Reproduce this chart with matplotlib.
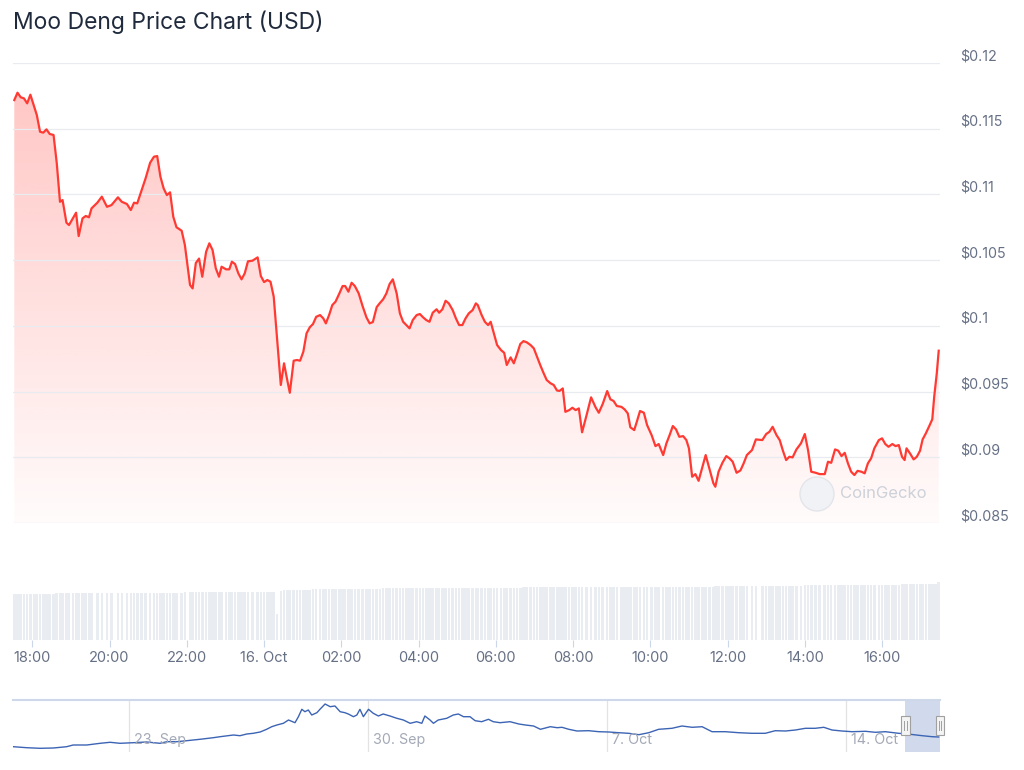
import numpy as np
import matplotlib.pyplot as plt
from matplotlib.patches import Polygon, Rectangle, Ellipse
from matplotlib.transforms import blended_transform_factory

plt.rcParams['font.family'] = ['Inter', 'DejaVu Sans']

# main chart: minutes after 15 Oct 17:30, price in USD
minutes = [2, 7, 12, 17, 22, 27, 33, 37, 42, 47, 52, 57, 63, 68, 73, 77, 83, 87, 93, 98,
           102, 108, 113, 118, 122, 131, 138, 146, 153, 163, 169, 177, 183, 188, 193, 200, 206, 213, 219, 224,
           229, 234, 239, 244, 249, 254, 262, 267, 275, 279, 284, 289, 294, 300, 305, 310, 315, 320, 324, 331,
           336, 340, 345, 350, 355, 360, 365, 372, 380, 385, 390, 395, 400, 405, 410, 416, 421, 426, 430, 436,
           441, 446, 451, 456, 461, 466, 471, 477, 482, 486, 491, 496, 501, 507, 512, 516, 521, 526, 531, 537,
           543, 549, 554, 559, 565, 570, 575, 580, 585, 590, 596, 601, 606, 611, 616, 621, 627, 632, 637, 642,
           647, 652, 658, 662, 667, 672, 677, 683, 688, 693, 698, 703, 708, 714, 719, 722, 728, 733, 738, 742,
           747, 752, 758, 763, 767, 773, 778, 783, 788, 793, 798, 804, 809, 814, 819, 824, 829, 835, 840, 845,
           849, 854, 858, 864, 869, 874, 879, 884, 891, 898, 905, 910, 916, 923, 928, 933, 938, 945, 950, 955,
           959, 965, 969, 974, 980, 985, 992, 998, 1003, 1010, 1015, 1020, 1025, 1030, 1035, 1041, 1046, 1050, 1055, 1060,
           1065, 1071, 1076, 1082, 1088, 1091, 1096, 1102, 1108, 1113, 1118, 1124, 1130, 1135, 1140, 1148, 1154, 1164, 1170, 1175,
           1180, 1186, 1191, 1196, 1201, 1206, 1211, 1217, 1224, 1230, 1235, 1240, 1247, 1253, 1261, 1266, 1271, 1277, 1282, 1287,
           1292, 1297, 1302, 1307, 1312, 1318, 1323, 1328, 1333, 1338, 1345, 1350, 1355, 1360, 1366, 1371, 1376, 1381, 1385, 1388,
           1394, 1399, 1404, 1409, 1413, 1418, 1424, 1428, 1431, 1435, 1438]

prices = [0.11718, 0.11774, 0.11739, 0.11731, 0.11693, 0.11759, 0.11667, 0.11604, 0.11477, 0.11470,
          0.11495, 0.11460, 0.11452, 0.11237, 0.10944, 0.10957, 0.10785, 0.10767, 0.10818, 0.10861,
          0.10683, 0.10818, 0.10836, 0.10826, 0.10894, 0.10937, 0.10983, 0.10906, 0.10919, 0.10978,
          0.10944, 0.10927, 0.10881, 0.10937, 0.10932, 0.11034, 0.11123, 0.11241, 0.11287, 0.11292,
          0.11135, 0.11046, 0.10995, 0.11016, 0.10830, 0.10750, 0.10724, 0.10615, 0.10311, 0.10285,
          0.10478, 0.10512, 0.10374, 0.10564, 0.10628, 0.10577, 0.10438, 0.10374, 0.10450, 0.10430,
          0.10430, 0.10488, 0.10470, 0.10400, 0.10354, 0.10400, 0.10491, 0.10496, 0.10521, 0.10379,
          0.10333, 0.10349, 0.10336, 0.10222, 0.09917, 0.09550, 0.09715, 0.09588, 0.09491, 0.09735,
          0.09740, 0.09735, 0.09803, 0.09943, 0.09989, 0.10014, 0.10069, 0.10082, 0.10057, 0.10019,
          0.10082, 0.10158, 0.10184, 0.10247, 0.10303, 0.10303, 0.10260, 0.10328, 0.10303, 0.10247,
          0.10151, 0.10065, 0.10019, 0.10029, 0.10143, 0.10174, 0.10202, 0.10247, 0.10318, 0.10354,
          0.10247, 0.10095, 0.10031, 0.10006, 0.09981, 0.10044, 0.10082, 0.10090, 0.10065, 0.10044,
          0.10031, 0.10100, 0.10126, 0.10100, 0.10126, 0.10191, 0.10171, 0.10120, 0.10057, 0.10006,
          0.10006, 0.10057, 0.10095, 0.10120, 0.10171, 0.10158, 0.10082, 0.10031, 0.10006, 0.10031,
          0.09943, 0.09854, 0.09816, 0.09795, 0.09702, 0.09760, 0.09715, 0.09786, 0.09862, 0.09884,
          0.09875, 0.09854, 0.09829, 0.09765, 0.09702, 0.09643, 0.09588, 0.09563, 0.09550, 0.09508,
          0.09505, 0.09524, 0.09346, 0.09359, 0.09377, 0.09359, 0.09372, 0.09190, 0.09321, 0.09456,
          0.09380, 0.09339, 0.09405, 0.09504, 0.09441, 0.09428, 0.09390, 0.09384, 0.09365, 0.09334,
          0.09228, 0.09207, 0.09270, 0.09352, 0.09339, 0.09245, 0.09169, 0.09085, 0.09101, 0.09017,
          0.09106, 0.09169, 0.09238, 0.09212, 0.09156, 0.09161, 0.09131, 0.09068, 0.08852, 0.08872,
          0.08821, 0.08928, 0.09017, 0.08908, 0.08802, 0.08776, 0.08890, 0.08958, 0.09009, 0.08992,
          0.08966, 0.08882, 0.08900, 0.08954, 0.09017, 0.09055, 0.09136, 0.09131, 0.09177, 0.09194,
          0.09232, 0.09169, 0.09131, 0.09050, 0.08979, 0.09004, 0.08999, 0.09060, 0.09106, 0.09177,
          0.09055, 0.08890, 0.08882, 0.08872, 0.08872, 0.08966, 0.08958, 0.09060, 0.09050, 0.09009,
          0.09034, 0.08954, 0.08890, 0.08865, 0.08897, 0.08890, 0.08878, 0.08954, 0.08992, 0.09068,
          0.09131, 0.09144, 0.09101, 0.09080, 0.09101, 0.09085, 0.09093, 0.09004, 0.08979, 0.09068,
          0.09025, 0.08984, 0.09004, 0.09050, 0.09136, 0.09182, 0.09245, 0.09289, 0.09461, 0.09639,
          0.09811]

# 24h volume behind each price point, USD millions
volume_m = [92, 92, 92, 92, 92, 92, 92, 92, 92, 92, 92, 92, 92, 94, 94, 94, 94, 94, 94, 94,
            94, 94, 94, 94, 94, 94, 94, 94, 94, 94, 94, 94, 94, 94, 94, 94, 94, 94, 94, 94,
            94, 94, 94, 94, 94, 94, 94, 96, 96, 96, 96, 96, 96, 96, 96, 96, 96, 96, 96, 96,
            96, 96, 96, 96, 96, 96, 96, 96, 96, 96, 96, 96, 96, 96, 52, 98, 100, 100, 100, 100,
            100, 100, 100, 100, 100, 102, 102, 102, 102, 102, 102, 102, 102, 102, 102, 102, 102, 102, 102, 102,
            102, 102, 102, 102, 102, 102, 104, 104, 104, 104, 104, 104, 104, 104, 104, 104, 104, 104, 104, 104,
            104, 104, 104, 104, 104, 104, 104, 104, 104, 104, 104, 104, 104, 104, 104, 104, 104, 104, 104, 104,
            104, 104, 104, 104, 104, 104, 104, 104, 104, 106, 106, 106, 106, 106, 106, 106, 106, 106, 106, 106,
            106, 106, 106, 106, 106, 106, 106, 106, 106, 106, 106, 106, 106, 106, 106, 106, 106, 106, 106, 106,
            106, 106, 106, 106, 106, 106, 106, 106, 106, 106, 106, 106, 106, 106, 106, 106, 106, 106, 106, 106,
            106, 106, 106, 106, 106, 108, 108, 108, 108, 108, 108, 108, 108, 108, 108, 108, 108, 108, 108, 108,
            108, 108, 108, 108, 108, 108, 108, 108, 108, 110, 110, 110, 110, 110, 110, 110, 110, 110, 110, 110,
            110, 110, 110, 110, 110, 110, 110, 110, 110, 110, 110, 110, 110, 110, 110, 110, 110, 112, 112, 112,
            112, 112, 112, 112, 112, 112, 112, 112, 112, 112, 116]

x_ticks = [30, 150, 270, 390, 510, 630, 750, 870, 990, 1110, 1230, 1350]
x_labels = ['18:00', '20:00', '22:00', '16. Oct', '02:00', '04:00', '06:00',
            '08:00', '10:00', '12:00', '14:00', '16:00']
y_ticks = [0.085, 0.09, 0.095, 0.1, 0.105, 0.11, 0.115, 0.12]
y_labels = ['$0.085', '$0.09', '$0.095', '$0.1', '$0.105', '$0.11', '$0.115', '$0.12']

# navigator: days after 23 Sep 00:00
nav_days = [-3.37, -2.98, -2.59, -2.20, -1.81, -1.62, -1.22, -0.83, -0.54, -0.25, 0.14, 0.53,
            0.92, 1.12, 1.41, 1.70, 2.09, 2.48, 2.68, 3.07, 3.26, 3.46, 3.65, 3.85, 4.04, 4.19,
            4.34, 4.53, 4.68, 4.87, 4.97, 5.07, 5.16, 5.26, 5.36, 5.51, 5.60, 5.75, 5.90, 6.04,
            6.19, 6.33, 6.43, 6.58, 6.68, 6.77, 6.87, 7.02, 7.16, 7.31, 7.45, 7.65, 7.85, 8.04,
            8.24, 8.43, 8.58, 8.67, 8.82, 8.92, 9.06, 9.31, 9.50, 9.65, 9.80, 9.99, 10.14, 10.33,
            10.53, 10.67, 10.87, 11.16, 11.42, 11.61, 11.85, 12.05, 12.34, 12.54, 12.68, 12.88,
            13.12, 13.46, 13.76, 14.05, 14.34, 14.63, 14.93, 15.22, 15.51, 15.90, 16.19, 16.49,
            16.78, 17.07, 17.46, 17.85, 18.24, 18.63, 18.92, 19.22, 19.51, 19.80, 20.09, 20.34,
            20.58, 20.87, 21.17, 21.56, 21.85, 22.14, 22.53, 22.87, 23.22, 23.51, 23.70]
nav_prices = [0.0545, 0.0495, 0.0465, 0.048, 0.0545, 0.063, 0.063, 0.0715, 0.0765, 0.0715, 0.0745, 0.078,
              0.0715, 0.0795, 0.0795, 0.0845, 0.0915, 0.0995, 0.1045, 0.113, 0.1095, 0.118, 0.1215, 0.128,
              0.1415, 0.1545, 0.163, 0.1715, 0.188, 0.1745, 0.2045, 0.2415, 0.2295, 0.238, 0.213, 0.2245,
              0.2415, 0.268, 0.2545, 0.258, 0.2295, 0.2245, 0.218, 0.2045, 0.213, 0.2415, 0.2045, 0.2415,
              0.2215, 0.208, 0.218, 0.208, 0.1965, 0.188, 0.1715, 0.1795, 0.1715, 0.208, 0.188, 0.1715,
              0.188, 0.1965, 0.213, 0.218, 0.2045, 0.2045, 0.1845, 0.1795, 0.1915, 0.1795, 0.1745, 0.1795,
              0.168, 0.163, 0.158, 0.1415, 0.1545, 0.1495, 0.1515, 0.1415, 0.133, 0.1345, 0.1295, 0.128,
              0.1245, 0.1215, 0.1145, 0.1245, 0.1415, 0.1465, 0.158, 0.1515, 0.1545, 0.1295, 0.1295, 0.1245,
              0.1215, 0.1215, 0.1345, 0.133, 0.138, 0.1465, 0.1465, 0.1515, 0.138, 0.133, 0.1295, 0.1315,
              0.1265, 0.1295, 0.1215, 0.1165, 0.1095, 0.1045, 0.103]
nav_ticks = [0, 7, 14, 21]
nav_labels = ['23. Sep', '30. Sep', '7. Oct', '14. Oct']
nav_window = (22.73, 23.74)

W, H = 1024, 770
RED = '#ff3a33'
LABEL = '#667085'


def box(l, t, r, b):
    return [l / W, 1 - b / H, (r - l) / W, (b - t) / H]


fig = plt.figure(figsize=(W / 100, H / 100), dpi=100)
fig.patch.set_facecolor('white')

fig.text(13 / W, 1 - 22 / H, 'Moo Deng Price Chart (USD)', fontsize=16.5,
         color='#1f2a3d', va='center', ha='left')

# ---- price area ----
ax = fig.add_axes(box(13, 63, 940, 523))
ax.set_xlim(0, 1440)
ax.set_ylim(0.085, 0.12)

grad = np.zeros((256, 1, 4))
grad[:, 0, 0] = 1.0
grad[:, 0, 1] = 58 / 255
grad[:, 0, 2] = 51 / 255
grad[:, 0, 3] = np.linspace(0.30, 0.02, 256)
im = ax.imshow(grad, extent=[0, 1440, 0.085, 0.12], aspect='auto',
               origin='upper', zorder=1, interpolation='bilinear')
verts = [(minutes[0], 0.085)] + list(zip(minutes, prices)) + [(minutes[-1], 0.085)]
poly = Polygon(verts, closed=True, facecolor='none', edgecolor='none')
ax.add_patch(poly)
im.set_clip_path(poly)

ax.plot(minutes, prices, color=RED, lw=1.6, zorder=4, solid_joinstyle='round')

ax.set_yticks(y_ticks)
ax.set_xticks([])
ax.grid(axis='y', color='#e8ebf0', lw=0.9, zorder=0)
ax.tick_params(axis='y', length=0, labelleft=False)
for s in ax.spines.values():
    s.set_visible(False)
for v, lab in zip(y_ticks, y_labels):
    ax.annotate(lab, xy=(1, v), xycoords=('axes fraction', 'data'),
                xytext=(20, 7), textcoords='offset pixels',
                ha='left', va='center', fontsize=10.3, color=LABEL, annotation_clip=False)

# CoinGecko watermark
fig.add_artist(Ellipse((817 / W, 1 - 494 / H), 34 / W, 34 / H,
                       facecolor='#f1f2f5', edgecolor='#e3e5ea', lw=1, zorder=3))
fig.text(840 / W, 1 - 494 / H, 'CoinGecko', fontsize=12, color='#cdd1d9',
         va='center', ha='left', zorder=3)

# ---- volume bars ----
axv = fig.add_axes(box(13, 580, 940, 640))
axv.bar(minutes, volume_m, width=4.0, color='#e9edf2', linewidth=0)
axv.set_xlim(0, 1440)
axv.set_ylim(0, 120)
axv.set_yticks([])
axv.set_xticks(x_ticks)
axv.set_xticklabels(x_labels)
axv.tick_params(axis='x', length=5, width=0.8, color='#ccd6eb', pad=3,
                labelsize=10.5, labelcolor=LABEL)
for s in axv.spines.values():
    s.set_visible(False)

# ---- navigator ----
axn = fig.add_axes(box(13, 700, 940, 752))
axn.plot(nav_days, nav_prices, color='#3c64b4', lw=1.0, zorder=3)
axn.set_xlim(-3.38, 23.74)
axn.set_ylim(0.028, 0.288)
axn.set_yticks([])
axn.set_xticks(nav_ticks)
axn.grid(axis='x', color='#e3e3e3', lw=0.9, zorder=0)
axn.tick_params(axis='x', length=0, labelbottom=False)
for name, s in axn.spines.items():
    s.set_visible(name == 'top')
axn.spines['top'].set_color('#cfd8e8')
axn.spines['top'].set_linewidth(1.5)
for d, lab in zip(nav_ticks, nav_labels):
    axn.annotate(lab, xy=(d, 0.23), xycoords=('data', 'axes fraction'),
                 xytext=(5, 0), textcoords='offset pixels', ha='left', va='center',
                 fontsize=10.3, color='#a3a9b6')

axn.axvspan(nav_window[0], nav_window[1], color=(102 / 255, 133 / 255, 194 / 255),
            alpha=0.3, lw=0, zorder=2)
bt = blended_transform_factory(axn.transData, axn.transAxes)
for e in nav_window:
    axn.add_patch(Rectangle((e - 0.13, 0.33), 0.26, 0.37, transform=bt,
                            facecolor='#f4f4f4', edgecolor='#a0a0a0', lw=0.8,
                            zorder=5, clip_on=False))
    for dx in (-0.035, 0.035):
        axn.plot([e + dx, e + dx], [0.43, 0.60], transform=bt, color='#a0a0a0',
                 lw=0.7, zorder=6, clip_on=False)

fig.savefig('out.png', dpi=100)
